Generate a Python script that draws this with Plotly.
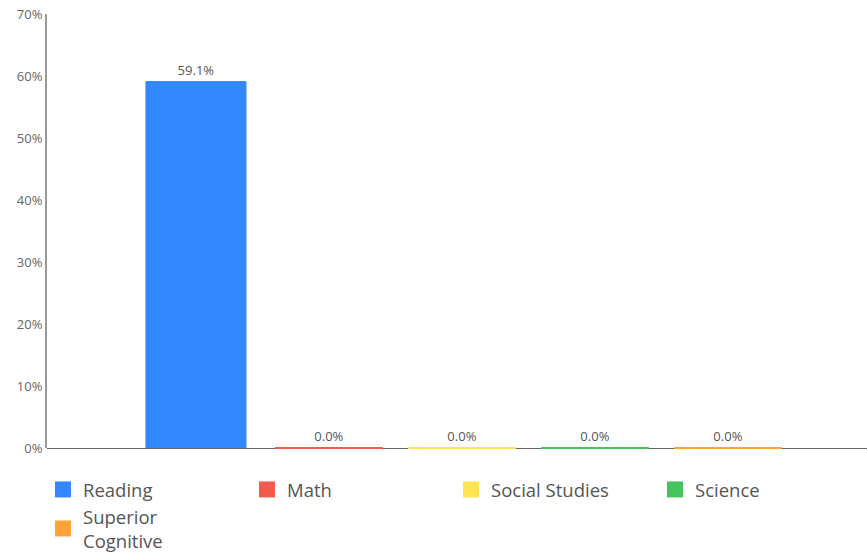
import plotly.graph_objects as go

categories = ["Reading", "Math", "Social Studies", "Science", "Superior<br>Cognitive"]
values = [0.591, 0.0, 0.0, 0.0, 0.0]
colors = ["#3388ff", "#f25a4e", "#ffe554", "#46c35d", "#ffa23a"]
y_ticks = [0, 0.1, 0.2, 0.3, 0.4, 0.5, 0.6, 0.7]

fig = go.Figure()
for name, v, c in zip(categories, values, colors):
    fig.add_trace(go.Bar(
        x=[name], y=[v], name=name, showlegend=False, width=0.752,
        marker=dict(color=c, line=dict(color=c, width=1)),
        texttemplate="%{y:.1%}", textposition="outside",
        textfont=dict(size=13, color="#555555"),
        cliponaxis=False,
    ))
    if v == 0:
        # a zero-valued bar is drawn as a thin coloured line on the baseline
        fig.add_trace(go.Scatter(
            x=[name], y=[v], mode="markers", showlegend=False, hoverinfo="skip",
            marker=dict(symbol="line-ew-open", size=77, color=c,
                        line=dict(color=c, width=2)),
            cliponaxis=False,
        ))
# legend entries with larger square swatches
for name, c in zip(categories, colors):
    fig.add_trace(go.Scatter(
        x=[None], y=[None], name=name, mode="markers",
        marker=dict(symbol="square", size=16, color=c),
        showlegend=True,
    ))

fig.update_layout(
    width=867, height=554,
    margin=dict(l=47, r=0, t=14, b=106),
    paper_bgcolor="white", plot_bgcolor="white",
    font=dict(family="Open Sans, sans-serif", color="#555555"),
    barmode="overlay",
    legend=dict(orientation="h", x=0.0496, xref="container", xanchor="left",
                y=0.150, yref="container", yanchor="top",
                entrywidth=159, entrywidthmode="pixels", itemsizing="trace",
                font=dict(size=18.5, color="#555555"), traceorder="normal"),
    xaxis=dict(type="category", categoryorder="array", categoryarray=categories,
               showticklabels=False, showgrid=False, zeroline=False, automargin=False,
               showline=False, range=[-1.12, 5.045], ticks=""),
    yaxis=dict(range=[0, 0.7], tickvals=y_ticks, tickformat=".0%", automargin=False,
               showgrid=False, zeroline=True, zerolinecolor="#666666", zerolinewidth=1,
               showline=True, linecolor="#999999", linewidth=2, ticks="",
               tickfont=dict(size=13, color="#666666")),
)

fig.write_html(
    "out.html",
    config={"displayModeBar": False},
    post_script="document.body.style.margin='0';document.body.style.overflow='hidden';",
)
